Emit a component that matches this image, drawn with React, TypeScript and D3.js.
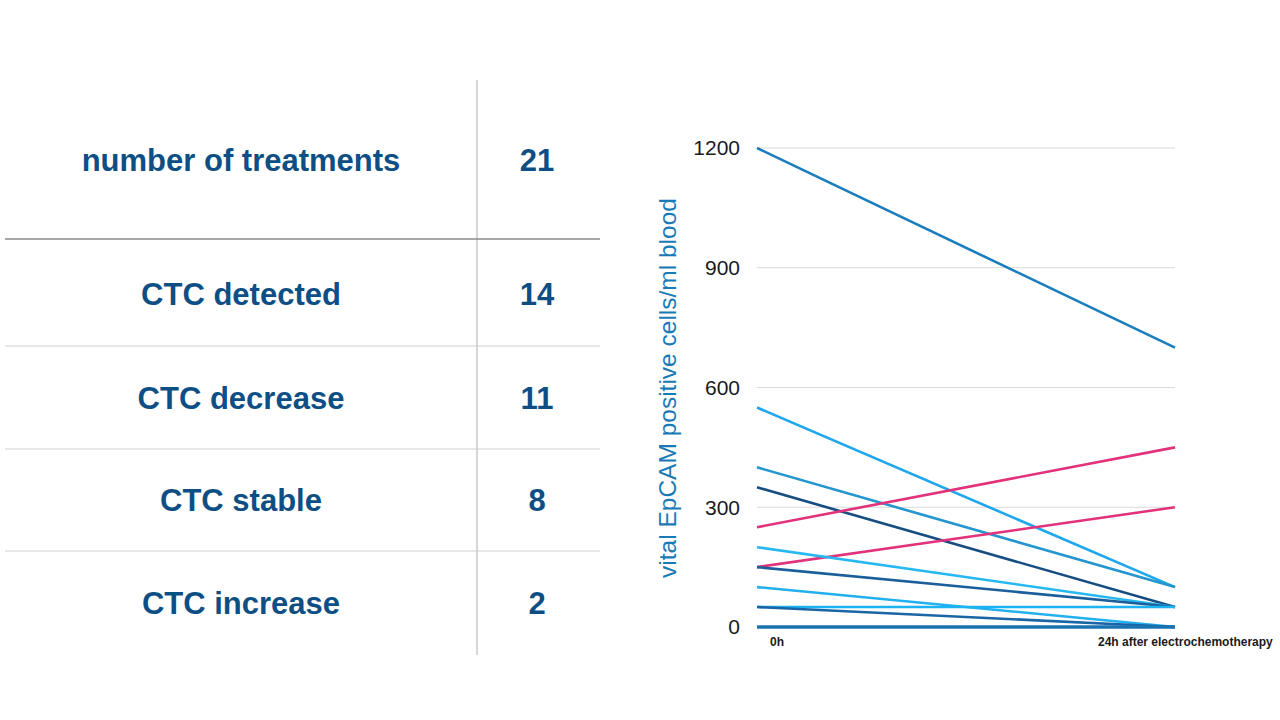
import React from "react";
import * as d3 from "d3";

const tableLabels = ["number of treatments", "CTC detected", "CTC decrease", "CTC stable", "CTC increase"];
const tableValues = [21, 14, 11, 8, 2];

const timepoints = ["0h", "24h after electrochemotherapy"];
const before = [1200, 550, 400, 350, 250, 150, 200, 150, 100, 50, 50, 0];
const after = [700, 100, 100, 50, 450, 300, 50, 50, 0, 50, 0, 0];
const lineColors = [
  "#1a7dbd", "#1ea7ec", "#2396cf", "#174e82", "#e2327b", "#e2327b",
  "#27b8f2", "#1a5f9a", "#22b0ee", "#1bb3f2", "#1a65a5", "#1a72b0",
];
const yTicks = [0, 300, 600, 900, 1200];
const yTitle = "vital EpCAM positive cells/ml blood";

export default function App() {
  const font = "'Liberation Sans', Arial, Helvetica, sans-serif";
  const textColor = "#0d4f84";

  // table layout
  const rowY = [160, 294, 398, 500, 603];
  const sepY = [239, 346, 449, 551];

  // chart scales
  const x = d3.scalePoint<string>().domain(timepoints).range([757, 1175]);
  const y = d3.scaleLinear().domain([0, 1200]).range([627, 148]);
  const line = d3
    .line<[string, number]>()
    .x((d) => x(d[0]) as number)
    .y((d) => y(d[1]));

  const series = before.map((b, i) => ({
    pts: [
      [timepoints[0], b],
      [timepoints[1], after[i]],
    ] as [string, number][],
    color: lineColors[i],
    width: i === before.length - 1 ? 3.5 : 2.6,
  }));

  return (
    <div style={{ position: "fixed", left: 0, top: 0, background: "#fff" }}>
      <svg width={1280} height={720} style={{ display: "block" }}>
        <rect width={1280} height={720} fill="#fff" />
        {/* table */}
        <line x1={477} x2={477} y1={80} y2={655} stroke="#bdbdbd" strokeWidth={1.2} />
        {sepY.map((sy, i) => (
          <line
            key={i}
            x1={5}
            x2={600}
            y1={sy}
            y2={sy}
            stroke={i === 0 ? "#8a8a8a" : "#cfcfcf"}
            strokeWidth={i === 0 ? 1.6 : 1.2}
          />
        ))}
        {tableLabels.map((lab, i) => (
          <g key={lab}>
            <text
              x={241}
              y={rowY[i]}
              dy="0.35em"
              textAnchor="middle"
              fontFamily={font}
              fontWeight={700}
              fontSize={31}
              fill={textColor}
            >
              {lab}
            </text>
            <text
              x={537}
              y={rowY[i]}
              dy="0.35em"
              textAnchor="middle"
              fontFamily={font}
              fontWeight={700}
              fontSize={31}
              fill={textColor}
            >
              {tableValues[i]}
            </text>
          </g>
        ))}

        {/* chart gridlines */}
        {yTicks.map((t) => (
          <g key={t}>
            {t > 0 && (
              <line x1={757} x2={1175} y1={y(t)} y2={y(t)} stroke="#d9d9d9" strokeWidth={1} />
            )}
            <text
              x={740}
              y={y(t)}
              dy="0.35em"
              textAnchor="end"
              fontFamily={font}
              fontSize={21}
              fill="#1a1a1a"
            >
              {t}
            </text>
          </g>
        ))}
        {series.map((s, i) => (
          <path
            key={i}
            d={line(s.pts) || ""}
            fill="none"
            stroke={s.color}
            strokeWidth={s.width}
            strokeLinecap="butt"
          />
        ))}
        <text
          transform={`translate(676, 388) rotate(-90)`}
          textAnchor="middle"
          fontFamily={font}
          fontSize={24.5}
          fill="#1a7ab5"
        >
          {yTitle}
        </text>
        <text x={770} y={646} fontFamily={font} fontWeight={700} fontSize={12} fill="#1a1a1a">
          {timepoints[0]}
        </text>
        <text x={1098} y={646} fontFamily={font} fontWeight={700} fontSize={12} fill="#1a1a1a">
          {timepoints[1]}
        </text>
      </svg>
    </div>
  );
}
